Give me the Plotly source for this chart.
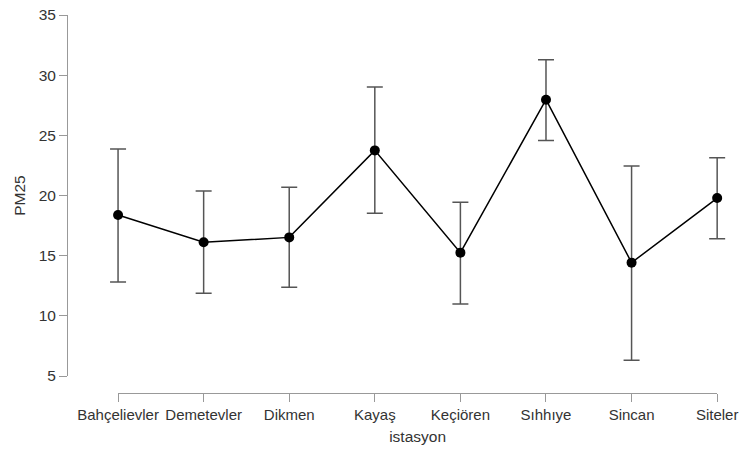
import plotly.graph_objects as go

stations = ["Bahçelievler", "Demetevler", "Dikmen", "Kayaş", "Keçiören", "Sıhhıye", "Sincan", "Siteler"]
means = [18.38, 16.11, 16.52, 23.75, 15.25, 27.96, 14.42, 19.79]
upper = [23.86, 20.37, 20.68, 29.02, 19.43, 31.29, 22.45, 23.14]
lower = [12.81, 11.87, 12.37, 18.52, 10.98, 24.58, 6.30, 16.41]
y_ticks = [5, 10, 15, 20, 25, 30, 35]

idx = list(range(len(stations)))
err_plus = [u - m for u, m in zip(upper, means)]
err_minus = [m - l for m, l in zip(means, lower)]

fig = go.Figure()
# empty trace to carry the baseline axis (x2), drawn first
fig.add_trace(go.Scatter(x=[], y=[], xaxis="x2", yaxis="y", showlegend=False, hoverinfo="skip"))
fig.add_trace(go.Scatter(
    x=idx, y=means, mode="lines+markers",
    line=dict(color="black", width=1.5),
    marker=dict(color="black", size=10),
    error_y=dict(type="data", symmetric=False, array=err_plus, arrayminus=err_minus,
                 color="#555555", thickness=1.5, width=8),
    cliponaxis=False, showlegend=False,
))

font = "Liberation Sans, Arial, sans-serif"
fs = 15.5
fx = 15
pad = 0.15
W, H = 739, 453
ml, mr, mt, mb = 67, 9.2, 15, 60
pw = W - ml - mr
d0 = 38.2 / pw
d1 = 1.0
span = (idx[-1] + pad) - (idx[0] - pad)
b0 = d0 + pad / span * (d1 - d0)
b1 = d1 - pad / span * (d1 - d0)
ph = H - mt - mb

fig.update_layout(
    width=W, height=H,
    margin=dict(l=ml, r=mr, t=mt, b=mb, autoexpand=False),
    paper_bgcolor="white", plot_bgcolor="rgba(0,0,0,0)",
    font=dict(family=font, size=fs, color="#333333"),
    xaxis=dict(
        domain=[d0, d1], range=[idx[0] - pad, idx[-1] + pad], anchor="free", position=0,
        tickvals=idx, ticktext=stations, automargin=False, tickangle=0,
        ticklabeloverflow="allow",
        showline=False,
        ticks="outside", ticklen=8, tickcolor="#999999", tickwidth=1,
        showgrid=False, zeroline=False,
        title=dict(text="istasyon", font=dict(size=fs, color="#333333"), standoff=9),
        tickfont=dict(size=fx, color="#333333"),
    ),
    xaxis2=dict(
        domain=[b0, b1], range=[idx[0], idx[-1]], anchor="free", position=0,
        showline=True, linecolor="#999999", linewidth=1,
        showticklabels=False, ticks="", showgrid=False, zeroline=False, automargin=False,
    ),
    yaxis=dict(
        domain=[17 / ph, 1], range=[5, 35], anchor="free", position=0,
        tickvals=y_ticks, automargin=False, ticklabeloverflow="allow",
        showline=True, linecolor="#999999", linewidth=1,
        ticks="outside", ticklen=8, tickcolor="#999999", tickwidth=1,
        showgrid=False, zeroline=False,
        title=dict(text="PM25", font=dict(size=fs, color="#333333"), standoff=8),
        tickfont=dict(size=fs, color="#333333"),
    ),
)

fig.write_html("out.html", config={"displayModeBar": False},
               post_script="document.body.style.margin='0px';document.body.style.overflow='hidden';")
